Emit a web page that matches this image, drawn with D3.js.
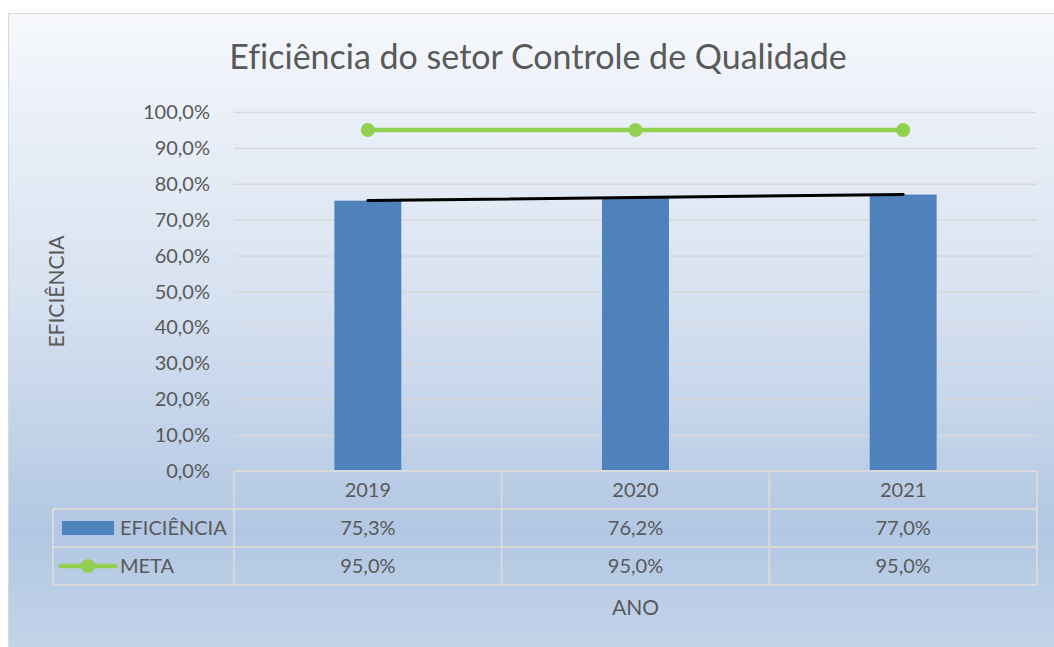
<!DOCTYPE html>
<html>
<head>
<meta charset="utf-8">
<script src="https://cdn.jsdelivr.net/npm/d3@7"></script>
<style>
  body { margin: 0; background: #fff; }
  text { font-family: Lato, "Open Sans", sans-serif; fill: #595959; font-variant-ligatures: none; }
</style>
</head>
<body>
<svg id="vis" width="1054" height="647"></svg>
<script>
const years = ["2019", "2020", "2021"];
const eficiencia = [75.3, 76.2, 77.0];
const meta = [95.0, 95.0, 95.0];
const seriesNames = ["EFICIÊNCIA", "META"];
const title = "Eficiência do setor Controle de Qualidade";

const width = 1054, height = 647;
const plot = {left: 234, right: 1037, top: 112, bottom: 471};
const rowH = 38;
const blue = "#4f81bd", green = "#92d050", grid = "#d9d9d9";

const br = d3.formatLocale({decimal: ",", thousands: ".", grouping: [3], currency: ["R$", ""]});
const pct = v => br.format(".1f")(v) + "%";

const svg = d3.select("#vis");

// background gradient like the excel chart area
const defs = svg.append("defs");
const grad = defs.append("linearGradient")
    .attr("id", "bg").attr("x1", 0).attr("y1", 0).attr("x2", 0).attr("y2", 1);
grad.append("stop").attr("offset", "0%").attr("stop-color", "#f6f8fc");
grad.append("stop").attr("offset", "45%").attr("stop-color", "#d6e1f0");
grad.append("stop").attr("offset", "80%").attr("stop-color", "#b2c7e3");
grad.append("stop").attr("offset", "100%").attr("stop-color", "#c4d5ea");

svg.append("rect")
    .attr("x", 8.5).attr("y", 13.5)
    .attr("width", width).attr("height", height)
    .attr("fill", "url(#bg)")
    .attr("stroke", "#d9d9d9");

svg.append("text")
    .attr("x", 538).attr("y", 69)
    .attr("text-anchor", "middle")
    .style("font-size", "34px")
    .text(title);

let x = d3.scaleBand().domain(years).range([plot.left, plot.right]);
let y = d3.scaleLinear().domain([0, 100]).range([plot.bottom, plot.top]);

// gridlines + y labels
let ticks = y.ticks(10);
svg.append("g").selectAll("line")
    .data(ticks.filter(t => t > 0))
    .enter().append("line")
    .attr("x1", plot.left).attr("x2", plot.right)
    .attr("y1", d => y(d) + 0.5).attr("y2", d => y(d) + 0.5)
    .attr("stroke", grid).attr("stroke-width", 1.5);

svg.append("g").selectAll("text")
    .data(ticks)
    .enter().append("text")
    .attr("x", 210).attr("y", d => y(d))
    .attr("dy", "0.35em")
    .attr("text-anchor", "end")
    .style("font-size", "20px")
    .text(d => pct(d));

svg.append("text")
    .attr("transform", `translate(64, ${(plot.top + plot.bottom) / 2}) rotate(-90)`)
    .attr("text-anchor", "middle")
    .style("font-size", "21px")
    .text("EFICIÊNCIA");

// bars
const barW = x.bandwidth() * 0.25;
svg.append("g").selectAll("rect")
    .data(eficiencia)
    .enter().append("rect")
    .attr("x", (d, i) => x(years[i]) + x.bandwidth() / 2 - barW / 2)
    .attr("y", d => y(d))
    .attr("width", barW)
    .attr("height", d => y(0) - y(d))
    .attr("fill", blue);

// linear trend line over the efficiency series
let n = eficiencia.length;
let xs = eficiencia.map((d, i) => i + 1);
let mx = d3.mean(xs), my = d3.mean(eficiencia);
let slope = d3.sum(xs, (v, i) => (v - mx) * (eficiencia[i] - my)) / d3.sum(xs, v => (v - mx) ** 2);
let icpt = my - slope * mx;
let cx = year => x(year) + x.bandwidth() / 2;
svg.append("line")
    .attr("x1", cx(years[0])).attr("y1", y(icpt + slope * 1))
    .attr("x2", cx(years[n - 1])).attr("y2", y(icpt + slope * n))
    .attr("stroke", "#000").attr("stroke-width", 3)
    .attr("stroke-linecap", "round");

// meta line
let line = d3.line()
    .x((d, i) => cx(years[i]))
    .y(d => y(d));
svg.append("path")
    .datum(meta)
    .attr("d", line)
    .attr("fill", "none")
    .attr("stroke", green).attr("stroke-width", 4.5);
svg.append("g").selectAll("circle")
    .data(meta)
    .enter().append("circle")
    .attr("cx", (d, i) => cx(years[i]))
    .attr("cy", d => y(d))
    .attr("r", 7)
    .attr("fill", green);

// data table
const tbl = svg.append("g");
const tableLeft = 53;
let hLines = [
    {x1: plot.left, y: plot.bottom},
    {x1: tableLeft, y: plot.bottom + rowH},
    {x1: tableLeft, y: plot.bottom + rowH * 2},
    {x1: tableLeft, y: plot.bottom + rowH * 3}
];
tbl.selectAll("line.h")
    .data(hLines)
    .enter().append("line")
    .attr("class", "h")
    .attr("x1", d => d.x1).attr("x2", plot.right)
    .attr("y1", d => d.y).attr("y2", d => d.y)
    .attr("stroke", grid).attr("stroke-width", 2);

let vLines = [plot.left].concat(years.map(yr => x(yr) + x.bandwidth()));
tbl.selectAll("line.v")
    .data(vLines)
    .enter().append("line")
    .attr("class", "v")
    .attr("x1", d => d).attr("x2", d => d)
    .attr("y1", plot.bottom).attr("y2", plot.bottom + rowH * 3)
    .attr("stroke", grid).attr("stroke-width", 2);
tbl.append("line")
    .attr("x1", tableLeft).attr("x2", tableLeft)
    .attr("y1", plot.bottom + rowH).attr("y2", plot.bottom + rowH * 3)
    .attr("stroke", grid).attr("stroke-width", 2);

tbl.selectAll("text.yr")
    .data(years)
    .enter().append("text")
    .attr("x", d => cx(d))
    .attr("y", plot.bottom + rowH / 2)
    .attr("dy", "0.35em")
    .attr("text-anchor", "middle")
    .style("font-size", "20px")
    .text(d => d);

[eficiencia, meta].forEach((series, r) => {
    tbl.selectAll("text.r" + r)
        .data(series)
        .enter().append("text")
        .attr("x", (d, i) => cx(years[i]))
        .attr("y", plot.bottom + rowH * (r + 1.5))
        .attr("dy", "0.35em")
        .attr("text-anchor", "middle")
        .style("font-size", "20px")
        .text(d => pct(d));

    tbl.append("text")
        .attr("x", 120)
        .attr("y", plot.bottom + rowH * (r + 1.5))
        .attr("dy", "0.35em")
        .style("font-size", "20px")
        .text(seriesNames[r]);
});

// legend keys
let ly1 = plot.bottom + rowH * 1.5, ly2 = plot.bottom + rowH * 2.5;
tbl.append("rect")
    .attr("x", 62).attr("y", ly1 - 7)
    .attr("width", 52).attr("height", 14)
    .attr("fill", blue);
tbl.append("line")
    .attr("x1", 61).attr("x2", 115)
    .attr("y1", ly2).attr("y2", ly2)
    .attr("stroke", green).attr("stroke-width", 4.5)
    .attr("stroke-linecap", "round");
tbl.append("circle")
    .attr("cx", 88).attr("cy", ly2).attr("r", 7)
    .attr("fill", green);

svg.append("text")
    .attr("x", cx(years[1]))
    .attr("y", 615)
    .attr("text-anchor", "middle")
    .style("font-size", "21px")
    .text("ANO");
</script>
</body>
</html>
